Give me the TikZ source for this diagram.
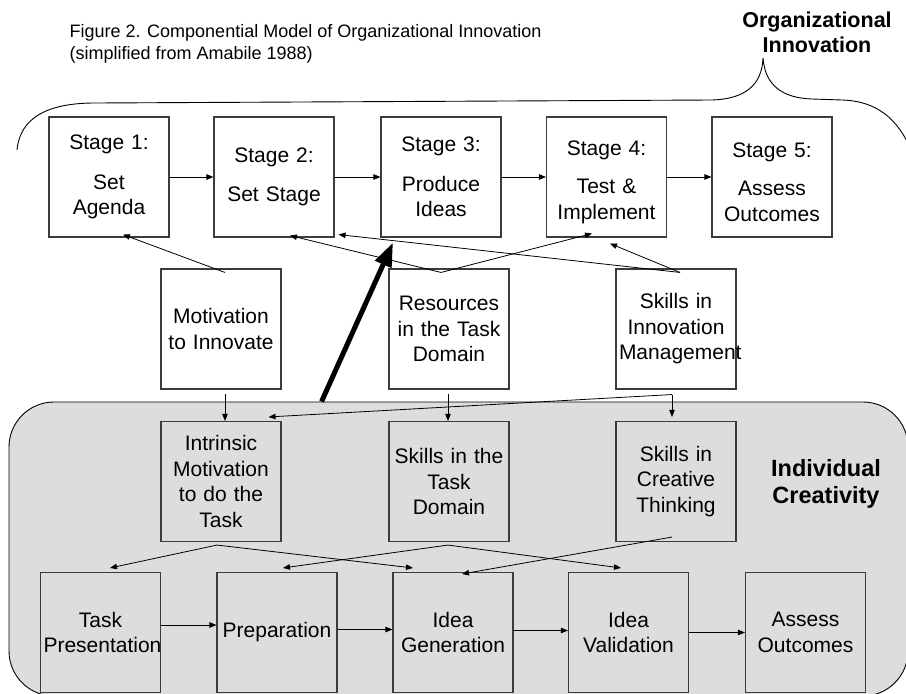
\documentclass[tikz,border=0pt]{standalone}
\usepackage{fontspec}
\setmainfont{Liberation Sans}
\usetikzlibrary{arrows.meta,calc}
\definecolor{panelgray}{RGB}{221,221,221}
\definecolor{edgegray}{RGB}{60,60,60}

\begin{document}
\begin{tikzpicture}[x=1pt,y=-1pt,
  box/.style={draw=edgegray, line width=1.1pt, minimum width=120pt, minimum height=120pt,
    inner sep=0pt, align=center, text width=114pt, font=\fontsize{21}{25.5}\selectfont},
  topbox/.style={box, fill=white},
  arr/.style={line width=0.8pt, -{Triangle[length=7pt,width=5.5pt]}},
  bigarr/.style={line width=5pt, -{Triangle[length=24pt,width=17pt]}},
  panel/.style={draw=black, line width=0.9pt, fill=panelgray, rounded corners=45pt,
    minimum width=899pt, minimum height=294pt, inner sep=0pt},
  heading/.style={align=center, font=\bfseries\fontsize{21.5}{25}\selectfont}]

\useasboundingbox (0,0) rectangle (906,694);
\clip (0,0) rectangle (906,694);

% shaded panel for individual creativity
\node[panel] (indiv) at (458.5,549) {};

% caption
\node[anchor=west, align=left, font=\fontsize{18}{21.5}\selectfont] (title) at (66,44)
  {Figure 2. Componential Model of Organizational Innovation\\(simplified from Amabile 1988)};

% labels
\node[heading] (orglab) at (817,32.5) {Organizational\\Innovation};
\node[align=center, font=\bfseries\fontsize{23.5}{27}\selectfont] (indlab) at (826,483.5) {Individual\\Creativity};

% brace over the organisational stages
\draw[line width=0.9pt] (17,150) .. controls (20,118) and (47,103) .. (95,103)
  -- (712,100) .. controls (745,99) and (762,85) .. (763,58)
  .. controls (765,85) and (782,98) .. (812,99) -- (842,100)
  .. controls (876,101) and (898,118) .. (912,152);

% organisational stages
\node[topbox] (s1) at (109,177) {Stage 1:\\[14pt]Set\\Agenda};
\node[topbox] (s2) at (274,177) {Stage 2:\\[14pt]Set Stage};
\node[topbox] (s3) at (441,177) {Stage 3:\\[14pt]Produce\\Ideas};
\node[topbox] (s4) at (606.5,177) {\rule{0pt}{25pt}Stage 4:\\[13pt]Test \&\\Implement};
\node[topbox] (s5) at (772,177) {\rule{0pt}{25pt}Stage 5:\\[13pt]Assess\\Outcomes};

% organisational components
\node[topbox] (mot) at (221,329) {Motivation\\to Innovate};
\node[topbox] (res) at (449,329) {Resources\\in the Task\\Domain};
\node[topbox] (ski) at (676,329) {Skills in\\Innovation\\Management};

% individual components
\node[box] (intr) at (221,481.5) {Intrinsic\\Motivation\\to do the\\Task};
\node[box] (std) at (449,481.5) {Skills in the\\Task\\Domain};
\node[box] (sct) at (676,481.5) {Skills in\\Creative\\Thinking};

% individual stages
\node[box] (tp) at (100.5,632.5) {Task\\Presentation};
\node[box] (prep) at (277,632.5) {Preparation};
\node[box] (ig) at (453,632.5) {Idea\\Generation};
\node[box] (iv) at (628.5,632.5) {Idea\\Validation};
\node[box] (ao) at (805.5,632.5) {Assess\\Outcomes};

% stage sequence
\draw[arr] (s1.east) -- (s2.west);
\draw[arr] (s2.east) -- (s3.west);
\draw[arr] (s3.east) -- (s4.west);
\draw[arr] (s4.east) -- (s5.west);

% components feeding the stages
\draw[arr] ($(mot.north)+(4,4)$) -- ($(s1.south)+(14,-3)$);
\draw[arr] ($(res.north)+(-8,4)$) -- ($(s2.south)+(16,-2)$);
\draw[arr] ($(res.north)+(-8,4)$) -- ($(s4.south)+(-14.5,-4)$);
\draw[arr] ($(ski.north)+(4,4)$) -- ($(s2.south east)+(4,-3)$);
\draw[arr] ($(ski.north)+(4,4)$) -- ($(s4.south)+(3.5,6)$);

% individual creativity drives idea production
\draw[bigarr] ($(indiv.north west)+(313,0)$) -- ($(s3.south)+(-48,5)$);

% organisational to individual components
\draw[arr] ($(mot.south)+(4,4)$) -- ($(intr.north)+(4,0)$);
\draw[arr] ($(res.south)+(-1,4)$) -- ($(std.north)+(-1,0)$);
\draw[arr] ($(ski.south)+(-4,5)$) -- ($(intr.north east)+(-13,-4)$);
\draw[arr] ($(ski.south)+(-4,5)$) -- ($(sct.north)+(-4,-4)$);

% individual components to individual stages
\draw[arr] ($(intr.south)+(-4,3)$) -- ($(tp.north)+(9.5,-4)$);
\draw[arr] ($(intr.south)+(-4,3)$) -- ($(ig.north)+(-40,-4)$);
\draw[arr] ($(std.south)+(-1,3)$) -- ($(prep.north)+(6,-4)$);
\draw[arr] ($(std.south)+(-1,3)$) -- ($(iv.north)+(-7.5,-4)$);
\draw[arr] ($(sct.south)+(-4,-5)$) -- ($(ig.north)+(9,2)$);

% individual stage sequence
\draw[arr] ($(tp.east)+(0,-7.5)$) -- ($(prep.west)+(0,-7.5)$);
\draw[arr] ($(prep.east)+(0,-3)$) -- ($(ig.west)+(0,-3)$);
\draw[arr] ($(ig.east)+(0,-2)$) -- ($(iv.west)+(0,-2)$);
\draw[arr] (iv.east) -- (ao.west);
\end{tikzpicture}
\end{document}
